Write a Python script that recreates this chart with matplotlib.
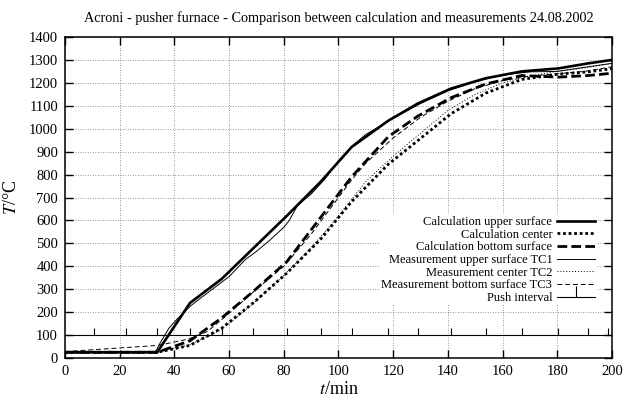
import matplotlib
matplotlib.use("Agg")
import matplotlib.pyplot as plt
from matplotlib.lines import Line2D

plt.rcParams["font.family"] = ["Liberation Serif", "DejaVu Serif"]
plt.rcParams["mathtext.fontset"] = "stix"

# ---- data (t in min, T in degC)
push_times = [10.7, 22.2, 33.7, 45.7, 57.3, 68.8, 81.1, 93.6, 104.8, 118.2,
              129.0, 141.1, 153.8, 167.0, 180.4, 191.3, 198.4]

calc_t = [0, 33.7, 45.7, 57.3, 68.8, 81.1, 93.6, 104.8, 118.2, 129.0,
          141.1, 153.8, 167.0, 180.4, 191.3, 200]
calc_upper = [25, 25, 240, 345, 478, 620, 770, 920, 1035, 1110,
              1175, 1220, 1250, 1263, 1285, 1300]
calc_center = [25, 25, 55, 130, 240, 370, 520, 682, 845, 948,
               1065, 1155, 1215, 1238, 1248, 1262]
calc_bottom = [25, 25, 75, 175, 290, 420, 615, 790, 965, 1055,
               1135, 1195, 1232, 1225, 1232, 1242]

tc1_t = [0, 33, 35, 38, 41, 44, 46, 50, 55, 60, 66, 70, 75, 80, 82, 85,
         90, 95, 100, 105, 110, 120, 130, 140, 150, 160, 170, 180, 190, 200]
tc1 = [25, 25, 70, 130, 170, 205, 228, 265, 310, 355, 430, 465, 515, 570, 600, 665,
       715, 780, 860, 925, 975, 1045, 1110, 1165, 1205, 1235, 1248, 1250, 1268, 1285]

tc2_t = [0, 34, 45, 55, 60, 70, 80, 90, 100, 110, 120, 130, 140, 150,
         160, 170, 180, 190, 200]
tc2 = [25, 30, 55, 110, 150, 250, 360, 480, 620, 770, 880, 980, 1080, 1150,
       1200, 1230, 1250, 1265, 1285]

tc3_t = [0, 34, 45, 52, 60, 70, 80, 90, 100, 105, 110, 120, 130, 140,
         150, 160, 170, 180, 190, 200]
tc3 = [28, 55, 82, 115, 195, 300, 400, 540, 700, 780, 850, 960, 1050, 1120,
       1175, 1210, 1230, 1240, 1250, 1270]

push_level = 100
push_tick = 130

fig = plt.figure(figsize=(6.23, 4.01), dpi=100)
ax = fig.add_axes([0.1043, 0.1072, 0.878, 0.8005])

ax.plot(calc_t, calc_upper, color="k", lw=1.9, label="Calculation upper surface")
ax.plot(calc_t, calc_center, color="k", lw=2.0, ls=(0, (1.0, 1.0)),
        label="Calculation center")
ax.plot(calc_t, calc_bottom, color="k", lw=2.0, ls=(0, (3.5, 1.5)),
        label="Calculation bottom surface")
ax.plot(tc1_t, tc1, color="k", lw=0.7, label="Measurement upper surface TC1")
ax.plot(tc2_t, tc2, color="k", lw=0.7, ls=(0, (1, 2)),
        label="Measurement center TC2")
ax.plot(tc3_t, tc3, color="k", lw=0.7, ls=(0, (5, 3)),
        label="Measurement bottom surface TC3")

# push interval: baseline with a tick at every push
ax.axhline(push_level, color="k", lw=0.8, zorder=1.5)
ax.vlines(push_times, push_level, push_tick, color="k", lw=0.8)
push_proxy = Line2D([], [], color="k", lw=0.8, marker=2, markersize=8,
                    markeredgewidth=0.8, label="Push interval")

ax.set_xlim(0, 200)
ax.set_ylim(0, 1400)
ax.set_xticks(range(0, 201, 20))
ax.set_yticks(range(0, 1401, 100))
ax.tick_params(direction="in", length=6, width=1.0, top=True, right=True,
               labelsize=10.5, pad=5)
for s in ax.spines.values():
    s.set_linewidth(1.1)
ax.grid(True, color="0.45", lw=0.6, ls=(0, (1, 2)))
ax.set_axisbelow(True)

ax.set_xlabel("$t$/min", fontsize=13, labelpad=2)
ax.set_ylabel("$T$/°C", fontsize=13, labelpad=6)
ax.set_title("Acroni - pusher furnace - Comparison between calculation and "
             "measurements 24.08.2002", fontsize=10.3, pad=11)

handles, labels = ax.get_legend_handles_labels()
handles.append(push_proxy)
labels.append("Push interval")
leg = ax.legend(handles, labels, loc="center right", bbox_to_anchor=(0.972, 0.305),
                markerfirst=False, frameon=True, fancybox=False, edgecolor="none",
                facecolor="white", framealpha=1.0, fontsize=9, numpoints=1,
                handlelength=3.1, handletextpad=0.35, labelspacing=0.05,
                borderpad=0.1, borderaxespad=0)

fig.savefig("out.png", dpi=100)
